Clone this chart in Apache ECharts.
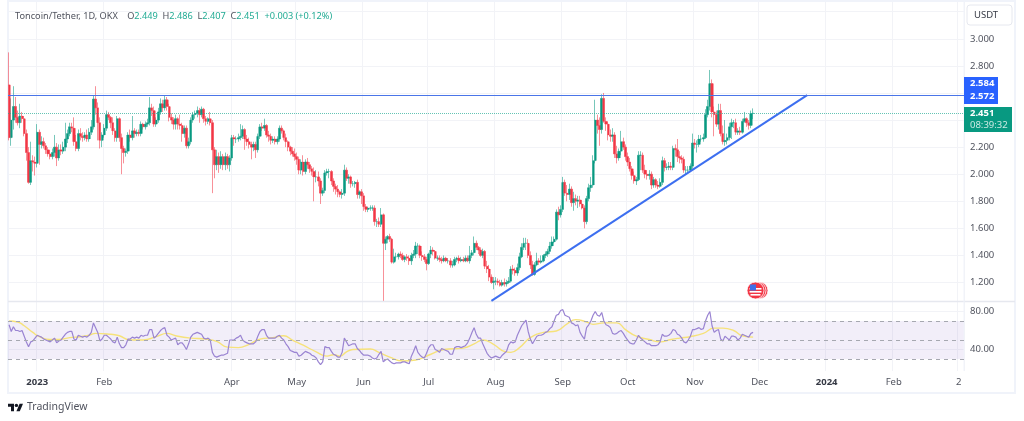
<!DOCTYPE html>
<html><head><meta charset="utf-8">
<style>html,body{margin:0;padding:0;background:#fff}#c{width:1024px;height:421px}</style>
<script src="https://cdn.jsdelivr.net/npm/echarts@6/dist/echarts.min.js"></script>
</head><body><div id="c"></div>
<script>
const firstDay='2022-12-19', dayCount=442;
const timeTicks={'2023-01-01':'2023','2023-02-01':'Feb','2023-04-01':'Apr','2023-05-01':'May','2023-06-01':'Jun','2023-07-01':'Jul','2023-08-01':'Aug','2023-09-01':'Sep','2023-10-01':'Oct','2023-11-01':'Nov','2023-12-01':'Dec','2024-01-01':'2024','2024-02-01':'Feb','2024-03-02':'2'};
const priceTicks=[1.2,1.4,1.6,1.8,2.0,2.2,2.4,2.6,2.8,3.0,3.2];
const priceLabels=[1.2,1.4,1.6,1.8,2.0,2.2,2.8,3.0];
const rsiTicks=[40,80];
const rsiLevels=[70,50,30];
const resistance=2.584, lastPrice=2.451;
const trendDays=['2023-07-30','2023-12-23'], trendPrices=[1.064,2.584];

const opens=[
2.66,2.27,2.40,2.50,2.42,2.38,2.43,2.41,2.30,2.16,
1.94,2.10,2.09,2.08,2.31,2.22,2.24,2.21,2.18,2.15,
2.13,2.16,2.20,2.12,2.18,2.17,2.20,2.26,2.30,2.35,
2.34,2.24,2.19,2.30,2.28,2.27,2.29,2.26,2.31,2.35,
2.555,2.49,2.38,2.25,2.29,2.34,2.44,2.42,2.38,2.32,
2.27,2.41,2.27,2.19,2.16,2.17,2.29,2.27,2.32,2.30,
2.31,2.30,2.37,2.35,2.37,2.38,2.49,2.47,2.37,2.40,
2.46,2.52,2.49,2.55,2.50,2.42,2.40,2.37,2.41,2.37,
2.36,2.30,2.34,2.21,2.24,2.40,2.44,2.45,2.47,2.44,
2.48,2.41,2.39,2.41,2.38,2.18,2.07,2.13,2.07,2.13,
2.07,2.13,2.07,2.12,2.27,2.26,2.26,2.27,2.28,2.33,
2.26,2.24,2.22,2.20,2.22,2.18,2.28,2.35,2.34,2.36,
2.29,2.28,2.25,2.26,2.24,2.26,2.34,2.32,2.27,2.24,
2.20,2.17,2.15,2.13,2.11,2.03,2.09,2.02,2.09,2.07,
2.04,2.02,1.98,1.98,1.95,1.86,1.88,2.01,2.02,2.02,
1.95,1.91,1.89,1.87,1.85,1.86,2.03,1.97,1.98,1.93,
1.93,1.94,1.85,1.87,1.84,1.76,1.74,1.75,1.75,1.75,
1.65,1.65,1.63,1.70,1.49,1.52,1.54,1.52,1.35,1.39,
1.39,1.41,1.40,1.37,1.39,1.38,1.36,1.40,1.41,1.47,
1.47,1.40,1.39,1.37,1.34,1.41,1.44,1.43,1.38,1.38,
1.37,1.36,1.38,1.36,1.36,1.33,1.33,1.37,1.38,1.36,
1.37,1.36,1.38,1.36,1.40,1.42,1.49,1.46,1.44,1.40,
1.43,1.32,1.30,1.24,1.20,1.21,1.21,1.20,1.18,1.20,
1.19,1.20,1.21,1.30,1.29,1.27,1.31,1.39,1.46,1.49,
1.49,1.40,1.33,1.26,1.33,1.36,1.35,1.36,1.40,1.41,
1.43,1.47,1.50,1.52,1.72,1.70,1.74,1.94,1.86,1.85,
1.89,1.79,1.82,1.80,1.81,1.78,1.75,1.65,1.82,1.90,
1.92,2.10,2.40,2.36,2.33,2.56,2.39,2.37,2.29,2.28,
2.29,2.15,2.12,2.17,2.24,2.20,2.13,2.09,2.04,1.99,
1.95,1.96,2.14,2.14,2.03,2.00,1.99,2.00,1.92,1.96,
1.92,1.91,1.94,2.10,2.05,2.05,2.06,2.05,2.19,2.18,
2.13,2.12,2.11,2.03,2.03,2.03,2.06,2.23,2.22,2.22,
2.26,2.26,2.27,2.44,2.50,2.67,2.46,2.44,2.37,2.47,
2.30,2.24,2.25,2.27,2.35,2.38,2.38,2.31,2.32,2.31,
2.39,2.41,2.38,2.36,2.449];
const highs=[
2.90,2.56,2.65,2.57,2.47,2.52,2.46,2.43,2.33,2.20,
2.24,2.14,2.13,2.37,2.33,2.28,2.27,2.23,2.20,2.18,
2.19,2.29,2.23,2.22,2.22,2.24,2.38,2.33,2.38,2.38,
2.42,2.29,2.33,2.34,2.31,2.31,2.33,2.34,2.40,2.58,
2.65,2.53,2.42,2.31,2.37,2.47,2.46,2.43,2.42,2.34,
2.43,2.42,2.30,2.21,2.19,2.31,2.33,2.43,2.34,2.33,
2.33,2.39,2.38,2.39,2.41,2.57,2.52,2.50,2.42,2.49,
2.56,2.55,2.58,2.57,2.52,2.45,2.42,2.44,2.42,2.44,
2.38,2.36,2.36,2.27,2.42,2.46,2.47,2.50,2.49,2.50,
2.49,2.43,2.42,2.46,2.40,2.20,2.18,2.16,2.17,2.15,
2.16,2.15,2.14,2.29,2.29,2.28,2.30,2.37,2.36,2.34,
2.29,2.27,2.24,2.24,2.24,2.30,2.37,2.38,2.41,2.37,
2.32,2.30,2.28,2.28,2.28,2.36,2.36,2.33,2.30,2.25,
2.21,2.20,2.19,2.16,2.13,2.11,2.14,2.11,2.12,2.09,
2.06,2.05,2.03,2.02,1.97,1.90,2.03,2.04,2.04,2.03,
1.97,1.93,1.92,1.88,1.89,2.07,2.05,2.00,1.99,1.95,
1.95,1.96,1.88,1.89,1.86,1.78,1.76,1.77,1.77,1.77,
1.67,1.68,1.75,1.71,1.54,1.55,1.56,1.53,1.45,1.42,
1.42,1.43,1.42,1.40,1.41,1.40,1.42,1.44,1.50,1.49,
1.48,1.43,1.41,1.39,1.42,1.47,1.46,1.44,1.40,1.40,
1.39,1.40,1.39,1.38,1.38,1.36,1.39,1.39,1.40,1.39,
1.39,1.40,1.40,1.47,1.44,1.54,1.51,1.47,1.46,1.45,
1.44,1.36,1.33,1.26,1.24,1.24,1.23,1.22,1.22,1.23,
1.22,1.24,1.32,1.33,1.31,1.34,1.42,1.49,1.53,1.53,
1.52,1.43,1.36,1.35,1.42,1.38,1.40,1.41,1.43,1.45,
1.50,1.54,1.54,1.74,1.76,1.77,1.98,1.96,1.92,1.93,
1.91,1.87,1.85,1.84,1.84,1.81,1.77,1.84,1.93,1.98,
2.14,2.55,2.44,2.42,2.59,2.60,2.42,2.39,2.33,2.34,
2.31,2.21,2.19,2.32,2.27,2.22,2.16,2.12,2.06,2.02,
1.98,2.17,2.17,2.16,2.07,2.03,2.03,2.02,1.98,1.97,
1.95,1.97,2.13,2.12,2.08,2.09,2.09,2.21,2.22,2.26,
2.17,2.14,2.13,2.06,2.06,2.08,2.30,2.26,2.25,2.29,
2.29,2.30,2.48,2.55,2.77,2.70,2.50,2.47,2.52,2.52,
2.36,2.40,2.30,2.38,2.41,2.40,2.41,2.34,2.35,2.41,
2.46,2.42,2.40,2.47,2.486];
const lows=[
2.25,2.21,2.33,2.38,2.36,2.34,2.38,2.28,2.10,1.93,
1.92,2.02,1.99,2.05,2.07,2.19,2.19,2.15,2.13,2.11,
2.11,2.13,2.06,2.10,2.14,2.15,2.17,2.23,2.28,2.31,
2.21,2.17,2.17,2.25,2.24,2.25,2.24,2.24,2.29,2.33,
2.44,2.25,2.19,2.20,2.27,2.32,2.40,2.34,2.29,2.24,
2.24,2.24,2.00,2.08,2.13,2.15,2.24,2.25,2.27,2.28,
2.28,2.28,2.33,2.33,2.35,2.36,2.43,2.35,2.35,2.38,
2.44,2.46,2.47,2.47,2.39,2.37,2.33,2.33,2.33,2.33,
2.24,2.27,2.19,2.19,2.22,2.38,2.41,2.42,2.38,2.42,
2.38,2.36,2.37,2.36,1.86,1.97,2.03,2.01,2.04,2.03,
2.03,2.04,2.02,2.10,2.21,2.23,2.24,2.25,2.26,2.18,
2.21,2.19,2.11,2.17,2.12,2.16,2.26,2.32,2.32,2.27,
2.24,2.22,2.23,2.22,2.22,2.24,2.30,2.25,2.20,2.17,
2.14,2.13,2.10,2.07,2.00,2.00,1.99,2.00,2.04,2.01,
1.99,1.80,1.94,1.91,1.78,1.84,1.86,1.99,1.97,1.92,
1.87,1.85,1.83,1.83,1.82,1.84,1.95,1.93,1.90,1.91,
1.90,1.82,1.82,1.78,1.73,1.72,1.72,1.73,1.73,1.62,
1.61,1.61,1.61,1.065,1.44,1.49,1.50,1.34,1.34,1.36,
1.37,1.38,1.36,1.35,1.36,1.33,1.33,1.38,1.38,1.41,
1.38,1.36,1.35,1.29,1.33,1.38,1.40,1.37,1.36,1.35,
1.34,1.35,1.35,1.34,1.31,1.31,1.32,1.35,1.34,1.35,
1.35,1.35,1.35,1.34,1.38,1.40,1.44,1.41,1.39,1.38,
1.30,1.27,1.21,1.19,1.15,1.18,1.18,1.17,1.17,1.17,
1.17,1.19,1.20,1.26,1.25,1.25,1.29,1.38,1.44,1.44,
1.38,1.30,1.25,1.25,1.32,1.33,1.34,1.35,1.38,1.39,
1.41,1.45,1.49,1.51,1.66,1.68,1.72,1.84,1.80,1.81,
1.76,1.73,1.77,1.75,1.76,1.74,1.60,1.63,1.80,1.87,
1.90,2.08,2.30,2.21,2.30,2.38,2.32,2.25,2.24,2.24,
2.12,2.08,2.10,2.14,2.18,2.10,2.06,2.02,1.96,1.93,
1.92,1.95,2.03,2.01,1.97,1.96,1.96,1.89,1.90,1.90,
1.89,1.90,1.92,2.02,2.03,2.03,2.03,2.03,2.13,2.09,
2.08,2.08,2.01,2.00,2.01,2.02,2.04,2.19,2.16,2.20,
2.24,2.24,2.26,2.42,2.47,2.42,2.28,2.35,2.33,2.28,
2.22,2.21,2.22,2.25,2.26,2.34,2.29,2.29,2.29,2.30,
2.38,2.35,2.33,2.34,2.407];
const closes=[
2.27,2.40,2.50,2.42,2.38,2.43,2.41,2.30,2.16,1.94,
2.10,2.09,2.08,2.31,2.22,2.24,2.21,2.18,2.15,2.13,
2.16,2.20,2.12,2.18,2.17,2.20,2.26,2.30,2.35,2.34,
2.24,2.19,2.30,2.28,2.27,2.29,2.26,2.31,2.35,2.555,
2.49,2.38,2.25,2.29,2.34,2.44,2.42,2.38,2.32,2.27,
2.41,2.27,2.19,2.16,2.17,2.29,2.27,2.32,2.30,2.31,
2.30,2.37,2.35,2.37,2.38,2.49,2.47,2.37,2.40,2.46,
2.52,2.49,2.55,2.50,2.42,2.40,2.37,2.41,2.37,2.36,
2.30,2.34,2.21,2.24,2.40,2.44,2.45,2.47,2.44,2.48,
2.41,2.39,2.41,2.38,2.18,2.07,2.13,2.07,2.13,2.07,
2.13,2.07,2.12,2.27,2.26,2.26,2.27,2.28,2.33,2.26,
2.24,2.22,2.20,2.22,2.18,2.28,2.35,2.34,2.36,2.29,
2.28,2.25,2.26,2.24,2.26,2.34,2.32,2.27,2.24,2.20,
2.17,2.15,2.13,2.11,2.03,2.09,2.02,2.09,2.07,2.04,
2.02,1.98,1.98,1.95,1.86,1.88,2.01,2.02,2.02,1.95,
1.91,1.89,1.87,1.85,1.86,2.03,1.97,1.98,1.93,1.93,
1.94,1.85,1.87,1.84,1.76,1.74,1.75,1.75,1.75,1.65,
1.65,1.63,1.70,1.49,1.52,1.54,1.52,1.35,1.39,1.39,
1.41,1.40,1.37,1.39,1.38,1.36,1.40,1.41,1.47,1.47,
1.40,1.39,1.37,1.34,1.41,1.44,1.43,1.38,1.38,1.37,
1.36,1.38,1.36,1.36,1.33,1.33,1.37,1.38,1.36,1.37,
1.36,1.38,1.36,1.40,1.42,1.49,1.46,1.44,1.40,1.43,
1.32,1.30,1.24,1.20,1.21,1.21,1.20,1.18,1.20,1.19,
1.20,1.21,1.30,1.29,1.27,1.31,1.39,1.46,1.49,1.49,
1.40,1.33,1.26,1.33,1.36,1.35,1.36,1.40,1.41,1.43,
1.47,1.50,1.52,1.72,1.70,1.74,1.94,1.86,1.85,1.89,
1.79,1.82,1.80,1.81,1.78,1.75,1.65,1.82,1.90,1.92,
2.10,2.40,2.36,2.33,2.56,2.39,2.37,2.29,2.28,2.29,
2.15,2.12,2.17,2.24,2.20,2.13,2.09,2.04,1.99,1.95,
1.96,2.14,2.14,2.03,2.00,1.99,2.00,1.92,1.96,1.92,
1.91,1.94,2.10,2.05,2.05,2.06,2.05,2.19,2.18,2.13,
2.12,2.11,2.03,2.03,2.03,2.06,2.23,2.22,2.22,2.26,
2.26,2.27,2.44,2.50,2.67,2.46,2.44,2.37,2.47,2.30,
2.24,2.25,2.27,2.35,2.38,2.38,2.31,2.32,2.31,2.39,
2.41,2.38,2.36,2.449,2.451];
const rsiValues=[
66,59,64,60,60,59,60,54,48,43,
48,49,52,55,54,53,51,50,49,48,
50,52,47,49,50,53,56,58,59,59,
51,50,55,54,53,54,53,55,58,68,
63,58,49,51,55,55,53,51,48,47,
53,46,42,42,45,51,51,53,52,53,
52,55,54,55,55,61,61,52,54,57,
60,62,63,55,53,50,51,52,45,47,
47,44,40,46,53,56,57,58,57,56,
52,51,52,50,37,33,32,33,34,34,
35,36,50,50,50,52,53,55,50,48,
47,46,46,46,48,54,59,61,61,55,
52,52,52,52,54,55,52,50,46,43,
39,38,37,37,33,34,36,38,37,36,
34,33,31,27,24,27,43,42,42,38,
35,34,32,32,37,52,48,44,45,46,
46,41,39,36,34,34,34,33,31,30,
31,35,38,27,29,30,28,26,25,26,
26,26,27,27,26,25,33,38,44,37,
34,32,31,36,42,45,45,40,39,37,
41,40,39,38,35,35,42,43,43,42,
43,44,47,52,58,63,56,52,52,46,
41,36,33,31,32,33,32,31,34,36,
38,45,48,47,48,55,60,65,68,71,
59,51,46,50,54,55,55,56,58,59,
62,64,70,76,77,81,82,76,75,74,
68,67,65,66,58,54,51,63,66,70,
76,80,76,75,79,70,66,65,63,57,
56,57,59,60,57,53,50,47,46,46,
50,55,52,50,48,46,46,44,44,44,
45,48,56,54,54,55,57,61,60,56,
55,52,48,47,50,54,61,61,62,63,
61,62,70,76,80,65,58,60,61,51,
49,54,52,50,54,54,53,50,52,56,
55,54,53,57,58];
const rsiMaDays=[0,4,7,11,14,19,23,28,33,37,40,47,51,56,62,68,73,77,84,91,96,101,106,111,116,122,127,131,136,142,147,150,153,156,159,167,171,176,182,188,195,201,210,215,219,224,229,232,236,241,247,253,258,262,267,270,275,281,285,290,296,301,306,310,315,321,326,330,335,339,344];
const rsiMaValues=[70,69,65,58,53.5,50.5,50.5,52.5,53.5,55,57,56,54.5,50,50,53.5,57,54.5,52,51,48.5,42.5,42,45.5,51,52.5,54.5,50,44.5,37.5,33,34.5,33,37.5,40,40.5,37,32,28,29,35,40,41.5,46,50,45.5,38,37,42,52.5,58,59.5,67,71.5,69,66.5,68,68,61,54,50.5,48,50.5,52,53.5,57,62.5,62.5,60,54.5,53];

const categories=[];
for(let i=0,t=Date.parse(firstDay);i<dayCount;i++,t+=864e5)categories.push(new Date(t).toISOString().slice(0,10));
const candles=closes.map((c,i)=>[opens[i],c,lows[i],highs[i]]);
const UP='#089981',DOWN='#f23645',GRID='#f2f3f7',TXT='#50535e',BLUE='#2962ff';
const FONT='"Noto Sans",sans-serif';
const isTick=(i,v)=>timeTicks[v]!==undefined;
const upPale='rgba(8,153,129,0.55)',downPale='rgba(242,54,69,0.55)';
const chart=echarts.init(document.getElementById('c'),null,{renderer:'canvas'});
const titleN={fontFamily:FONT,fontSize:9.2,fontWeight:'normal',color:'#50535e'};
const titleV={fontFamily:FONT,fontSize:9.2,fontWeight:'normal',color:'#22ab94'};
chart.setOption({
  animation:false,
  backgroundColor:'#fff',
  textStyle:{fontFamily:FONT},
  title:{left:15,top:7,padding:0,
    text:'{n|Toncoin/Tether, 1D, OKX}  {n|O}{v|2.449} {n|H}{v|2.486} {n|L}{v|2.407} {n|C}{v|2.451} {v|+0.003 (+0.12%)}',
    textStyle:{fontWeight:'normal',rich:{n:titleN,v:titleV}}},
  grid:[{left:8,right:60,top:2,height:299},{left:8,right:60,top:302,height:69}],
  xAxis:[
    {type:'category',gridIndex:0,data:categories,boundaryGap:true,axisLine:{show:false},axisTick:{show:false},axisLabel:{show:false},splitLine:{show:true,interval:isTick,lineStyle:{color:GRID,width:1}}},
    {type:'category',gridIndex:1,data:categories,boundaryGap:true,axisLine:{show:false},axisTick:{show:false},
      axisLabel:{interval:isTick,margin:6,fontSize:9.5,color:TXT,hideOverlap:false,
        formatter:v=>{const s=timeTicks[v];return /^20/.test(s)?'{y|'+s+'}':s;},
        rich:{y:{fontFamily:FONT,fontSize:9.5,fontWeight:'bold',color:'#363a45'}}},
      splitLine:{show:true,interval:isTick,lineStyle:{color:GRID,width:1}}}
  ],
  yAxis:[
    {type:'value',gridIndex:0,position:'right',min:1.0635,max:3.272,scale:true,axisLine:{show:false},
      axisTick:{show:false,customValues:priceTicks},
      axisLabel:{customValues:priceLabels,margin:6,fontSize:9.5,color:TXT,formatter:v=>v.toFixed(3)},
      splitLine:{show:true,lineStyle:{color:GRID,width:1}}},
    {type:'value',gridIndex:1,position:'right',min:17.4,max:90,scale:true,axisLine:{show:false},
      axisTick:{show:false,customValues:rsiTicks},
      axisLabel:{customValues:rsiTicks,margin:6,fontSize:9.5,color:TXT,formatter:v=>v.toFixed(2)},
      splitLine:{show:true,lineStyle:{color:GRID,width:1}}}
  ],
  series:[
    {type:'candlestick',name:'Wicks',xAxisIndex:0,yAxisIndex:0,data:candles,barWidth:2,silent:true,
      itemStyle:{color:'transparent',color0:'transparent',borderColor:upPale,borderColor0:downPale,borderWidth:1}},
    {type:'candlestick',name:'TON/USDT',xAxisIndex:0,yAxisIndex:0,data:candles.map(d=>[d[0],d[1],Math.min(d[0],d[1]),Math.max(d[0],d[1])]),barWidth:2.6,z:3,
      itemStyle:{color:UP,color0:DOWN,borderColor:UP,borderColor0:DOWN,borderWidth:0}},
    {type:'line',name:'Trendline',xAxisIndex:0,yAxisIndex:0,data:trendDays.map((d,i)=>[d,trendPrices[i]]),symbol:'none',z:4,
      lineStyle:{color:'#3d6ff0',width:2},
      markLine:{silent:true,symbol:'none',label:{show:false},animation:false,data:[
        {yAxis:resistance,lineStyle:{color:'#4a75e8',width:1,type:'solid'}},
        {yAxis:lastPrice,lineStyle:{color:'#22ab94',width:1,type:'dotted',opacity:.7}}]}},
    {type:'line',name:'RSI',xAxisIndex:1,yAxisIndex:1,data:rsiValues,symbol:'none',z:4,
      lineStyle:{color:'#9a84d2',width:1.2},
      markArea:{silent:true,itemStyle:{color:'rgba(126,87,194,0.1)'},data:[[{yAxis:rsiLevels[0]},{yAxis:rsiLevels[2]}]]},
      markLine:{silent:true,symbol:'none',label:{show:false},lineStyle:{color:'#a6a8b0',width:1,type:[4,4]},data:rsiLevels.map(v=>({yAxis:v}))}},
    {type:'line',name:'RSI MA',xAxisIndex:1,yAxisIndex:1,data:rsiMaDays.map((d,i)=>[d,rsiMaValues[i]]),symbol:'none',smooth:true,z:3,
      lineStyle:{color:'#f6e27a',width:1.4}}
  ],
  graphic:{elements:[
    {type:'rect',z:1,shape:{x:8,y:1,width:1007,height:392},style:{fill:'none',stroke:'#f0f3fa',lineWidth:2}},
    {type:'line',z:2,shape:{x1:8,y1:301.5,x2:1015,y2:301.5},style:{stroke:'#e6e8ef',lineWidth:1.5}},
    {type:'line',z:2,shape:{x1:964,y1:2,x2:964,y2:371},style:{stroke:'#f0f3fa',lineWidth:1}},
    {type:'rect',z:5,shape:{x:967,y:5,width:45,height:20,r:3},style:{fill:'#fff',stroke:'#e6e8ef',lineWidth:1}},
    {type:'text',z:6,x:974,y:10,style:{text:'USDT',fill:'#363a45',font:'9.5px '+FONT}},
    {type:'rect',z:5,shape:{x:964,y:77,width:34,height:27},style:{fill:BLUE}},
    {type:'text',z:6,x:970,y:78.5,style:{text:'2.584',fill:'#fff',font:'bold 9.5px '+FONT}},
    {type:'text',z:6,x:970,y:91.5,style:{text:'2.572',fill:'#fff',font:'bold 9.5px '+FONT}},
    {type:'rect',z:5,shape:{x:964,y:107,width:48,height:25},style:{fill:'#089981'}},
    {type:'text',z:6,x:970,y:108.5,style:{text:'2.451',fill:'#fff',font:'bold 9.5px '+FONT}},
    {type:'text',z:6,x:970,y:120,style:{text:'08:39:32',fill:'#cdeae4',font:'9.5px '+FONT}},
    {type:'circle',z:5,shape:{cx:759.5,cy:290.5,r:8.5},style:{fill:'#f23645',stroke:'#fff',lineWidth:.8}},
    {type:'circle',z:5,shape:{cx:757.5,cy:290.5,r:8.5},style:{fill:'#f23645',stroke:'#fff',lineWidth:.8}},
    {type:'circle',z:5,shape:{cx:755.5,cy:290.5,r:8.5},style:{fill:'#f23645',stroke:'#fff',lineWidth:.8}},
    {type:'rect',z:6,shape:{x:749.5,y:288,width:12,height:1.6},style:{fill:'#fff'}},
    {type:'rect',z:6,shape:{x:749.5,y:291,width:12,height:1.6},style:{fill:'#fff'}},
    {type:'rect',z:6,shape:{x:750.5,y:294,width:10,height:1.6},style:{fill:'#fff'}},
    {type:'rect',z:7,shape:{x:750,y:284.5,width:6,height:6},style:{fill:'#3f6fe8'}},
    {type:'polygon',z:6,shape:{points:[[8,403.7],[14,403.7],[14,411.2],[11,411.2],[11,406.7],[8,406.7]]},style:{fill:'#131722'}},
    {type:'polygon',z:6,shape:{points:[[19.6,403.7],[23,403.7],[19.8,411.2],[16.4,411.2]]},style:{fill:'#131722'}},
    {type:'circle',z:6,shape:{cx:16.4,cy:405.4,r:1.7},style:{fill:'#131722'}},
    {type:'text',z:6,x:27,y:401.5,style:{text:'TradingView',fill:'#50535e',font:'10.5px '+FONT}}
  ]}
});
</script></body></html>
